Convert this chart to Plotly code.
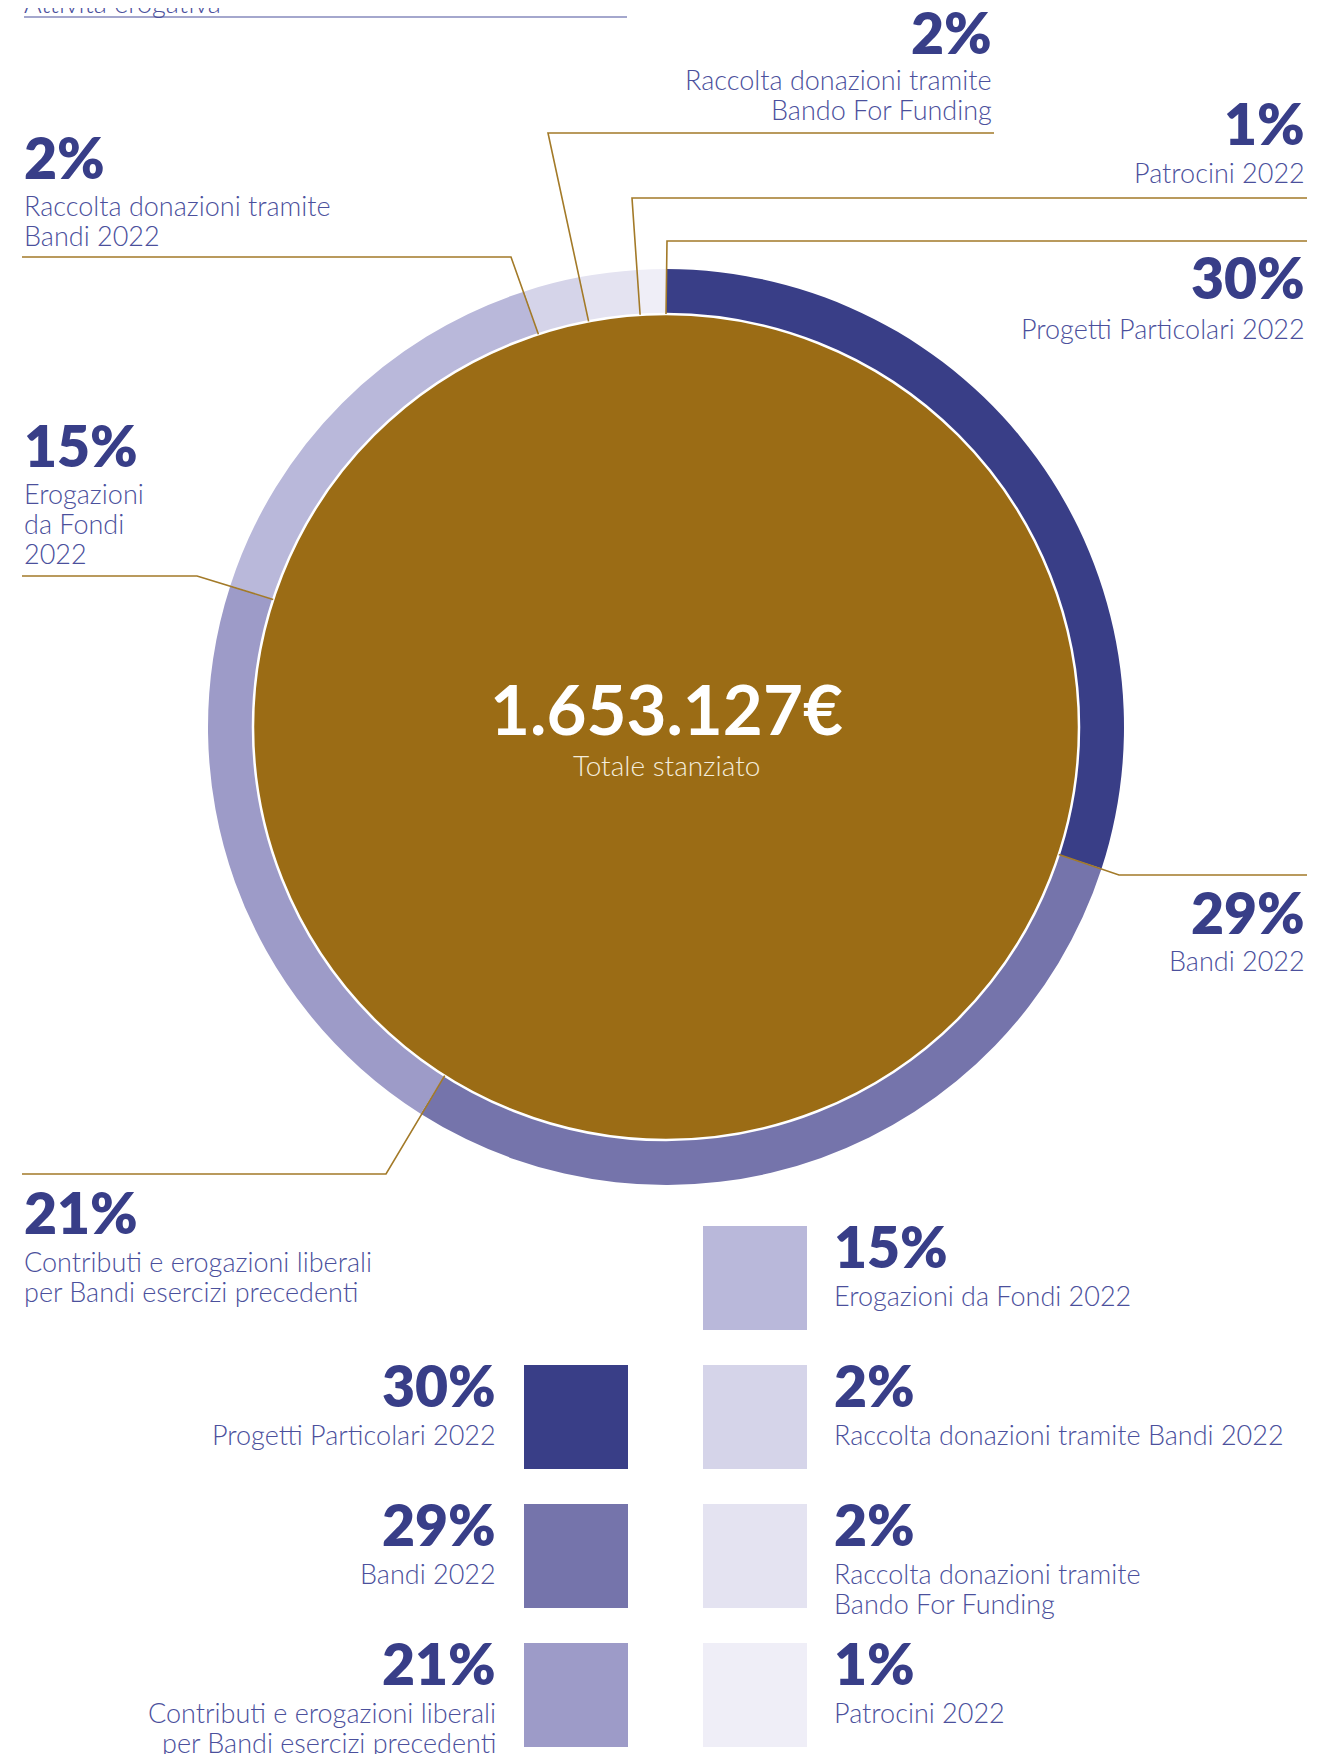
import math
import plotly.graph_objects as go

# ---------------- data ----------------
categories = [
    "Progetti Particolari 2022",
    "Bandi 2022",
    "Contributi e erogazioni liberali per Bandi esercizi precedenti",
    "Erogazioni da Fondi 2022",
    "Raccolta donazioni tramite Bandi 2022",
    "Raccolta donazioni tramite Bando For Funding",
    "Patrocini 2022",
]
values = [30, 29, 21, 15, 2, 2, 1]
pct_labels = ["30%", "29%", "21%", "15%", "2%", "2%", "1%"]
colors = ["#393e87", "#7574ab", "#9d9bc8", "#b9b8da", "#d5d4e9", "#e4e3f1", "#efeef7"]
total_value = 1653127
total_label = "1.653.127€"
total_caption = "Totale stanziato"
header_text = "Attività erogativa"

# chart-side label text (line breaks as in reference)
chart_label_lines = [
    ["Progetti Particolari 2022"],
    ["Bandi 2022"],
    ["Contributi e erogazioni liberali", "per Bandi esercizi precedenti"],
    ["Erogazioni", "da Fondi", "2022"],
    ["Raccolta donazioni tramite", "Bandi 2022"],
    ["Raccolta donazioni tramite", "Bando For Funding"],
    ["Patrocini 2022"],
]
legend_label_lines = [
    ["Progetti Particolari 2022"],
    ["Bandi 2022"],
    ["Contributi e erogazioni liberali", "per Bandi esercizi precedenti"],
    ["Erogazioni da Fondi 2022"],
    ["Raccolta donazioni tramite Bandi 2022"],
    ["Raccolta donazioni tramite", "Bando For Funding"],
    ["Patrocini 2022"],
]

# ---------------- layout constants (pixels) ----------------
W, H = 1335, 1754
OFF = 8  # page body margin compensation
CX, CY = 666, 727
R_OUT, R_IN = 458, 413
BROWN = "#9b6c15"
GOLD = "#a37a28"
PCT_COLOR = "#383e88"
LBL_COLOR = "#4b509c"
PCT_FONT = dict(family="Lato", size=57, color=PCT_COLOR, weight=800)
LBL_FONT = dict(family="Lato", size=27, color=LBL_COLOR, weight=300)
LINE_GAP = 30

# label placement per category: (side, text x, pct y, label first-line y, elbow x, elbow y, line end x)
label_layout = [
    ("right", 1307, 277, 328, 667, 241, 1307),
    ("right", 1307, 912, 960, 1119, 875, 1307),
    ("left", 22, 1212, 1261, 386, 1174, 22),
    ("left", 22, 445, 493, 197, 576, 22),
    ("left", 22, 157, 205, 511, 257, 22),
    ("right", 994, 32, 79, 548, 133, 994),
    ("right", 1307, 123, 172, 632, 198, 1307),
]

# legend slots: (column, row)
legend_slots = [("L", 1), ("L", 2), ("L", 3), ("R", 0), ("R", 1), ("R", 2), ("R", 3)]
ROW_TOP = [1226, 1365, 1504, 1643]
SQ = 104
COL_X = {"L": 524, "R": 703}

fig = go.Figure()


def px_domain(c, r, size):
    return [(c - r - OFF) / size, (c + r - OFF) / size]


# donut ring
fig.add_trace(go.Pie(
    labels=categories, values=values, sort=False, direction="clockwise", rotation=0,
    hole=(R_IN - 3) / R_OUT, marker=dict(colors=colors, line=dict(width=0)),
    textinfo="none", showlegend=False,
    domain=dict(x=px_domain(CX, R_OUT, W),
                y=[1 - (CY + R_OUT - OFF) / H, 1 - (CY - R_OUT - OFF) / H]),
))
# brown centre disc (total)
fig.add_trace(go.Pie(
    labels=[total_caption], values=[total_value], sort=False,
    marker=dict(colors=[BROWN], line=dict(width=2.5, color="white")),
    textinfo="none", showlegend=False,
    domain=dict(x=px_domain(CX, R_IN, W),
                y=[1 - (CY + R_IN - OFF) / H, 1 - (CY - R_IN - OFF) / H]),
))

shapes = []
annotations = []


def add_text(x, y, text, anchor, font, yanchor="middle"):
    annotations.append(dict(x=x, y=y, xref="x", yref="y", text=text, showarrow=False,
                            xanchor=anchor, yanchor=yanchor, align=anchor, font=font))


# header (cut off at the top edge, as in the reference)
add_text(22, 21, header_text, "left", dict(family="Lato", size=27, color=LBL_COLOR, weight=300),
         yanchor="bottom")
shapes.append(dict(type="line", xref="x", yref="y", x0=24, x1=627, y0=17, y1=17,
                   line=dict(color="#4b509c", width=1.2), layer="above"))

# leader lines + labels
tot = sum(values)
cum = 0
for i, v in enumerate(values):
    theta = math.radians(360 * cum / tot)
    cum += v
    ax = CX + R_IN * math.sin(theta)
    ay = CY - R_IN * math.cos(theta)
    side, tx, py, ly, ex, ey, lx = label_layout[i]
    shapes.append(dict(type="path", xref="x", yref="y",
                       path=f"M {ax:.1f},{ay:.1f} L {ex},{ey} L {lx},{ey}",
                       line=dict(color=GOLD, width=1.6), layer="above"))
    anchor = "right" if side == "right" else "left"
    add_text(tx, py, pct_labels[i], anchor, PCT_FONT)
    for k, line in enumerate(chart_label_lines[i]):
        add_text(tx, ly + k * LINE_GAP, line, anchor, LBL_FONT)

# centre text
add_text(CX, 708, f"<b>{total_label}</b>", "center",
         dict(family="Lato", size=69, color="white", weight=800))
add_text(CX, 765, total_caption, "center",
         dict(family="Lato", size=28, color="#f4ecdc", weight=300))

# legend squares + texts
for i, (col, row) in enumerate(legend_slots):
    x0 = COL_X[col]
    y0 = ROW_TOP[row]
    shapes.append(dict(type="rect", xref="x", yref="y", x0=x0, x1=x0 + SQ, y0=y0, y1=y0 + SQ,
                       fillcolor=colors[i], line=dict(width=0), layer="above"))
    if col == "L":
        tx, anchor = x0 - 26, "right"
    else:
        tx, anchor = x0 + SQ + 25, "left"
    add_text(tx, y0 + 20, pct_labels[i], anchor, PCT_FONT)
    for k, line in enumerate(legend_label_lines[i]):
        add_text(tx, y0 + 69 + k * LINE_GAP, line, anchor, LBL_FONT)

fig.update_layout(
    width=W, height=H, margin=dict(l=0, r=0, t=0, b=0),
    paper_bgcolor="white", plot_bgcolor="white",
    xaxis=dict(range=[OFF, W + OFF], visible=False, fixedrange=True),
    yaxis=dict(range=[H + OFF, OFF], visible=False, fixedrange=True),
    shapes=shapes, annotations=annotations, showlegend=False,
)

fig.write_html("out.html")
